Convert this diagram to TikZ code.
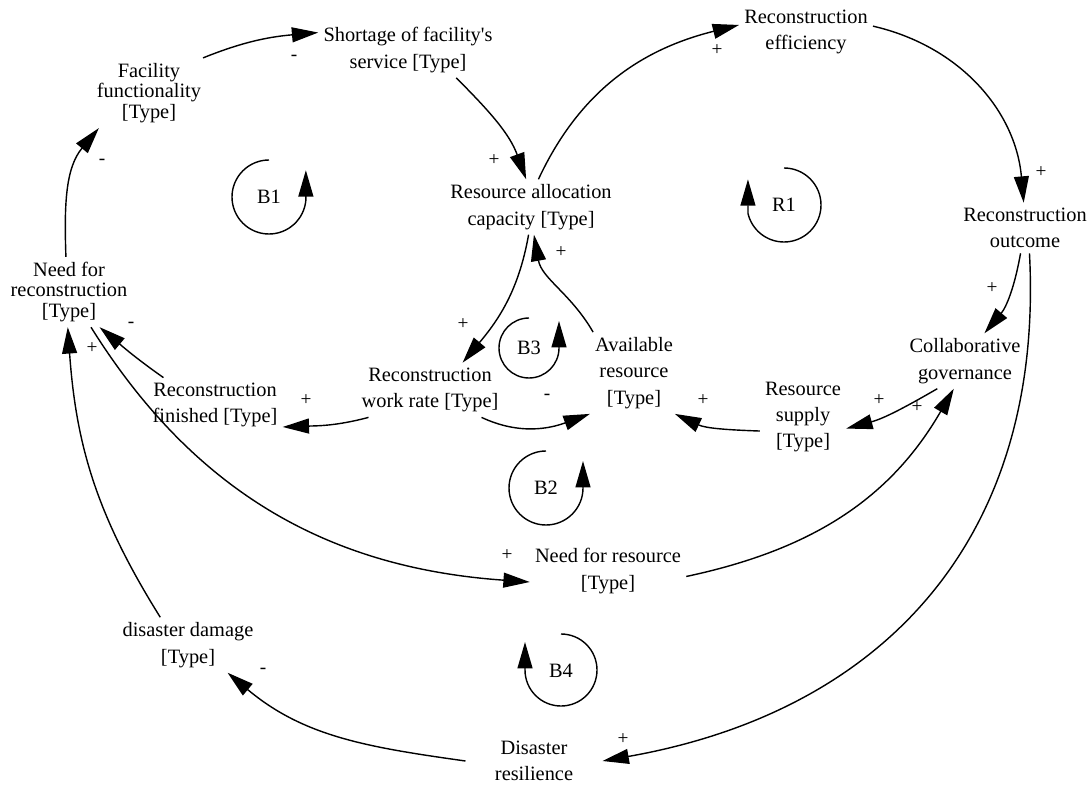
\documentclass[tikz,border=0pt]{standalone}
\usepackage{fontspec}
\setmainfont{Liberation Serif}
\usetikzlibrary{arrows.meta}

\begin{document}
\begin{tikzpicture}[x=0.02cm,y=0.02cm,
		var/.style={align=center,inner sep=1pt,outer sep=2pt,font=\fontsize{11.6}{15}\selectfont},
		tight/.style={font=\fontsize{11.6}{11.7}\selectfont},
		link/.style={line width=0.8pt,-{Triangle[length=15pt,width=8.5pt]}},
		sign/.style={inner sep=0pt,font=\fontsize{11}{11}\selectfont},
		loopname/.style={inner sep=0pt,font=\fontsize{11.6}{12}\selectfont}]
			\useasboundingbox (0,0) rectangle (1091,785);
			
			% variables
			\node[var,tight] (fac) at (149,692) {Facility\\functionality\\{[Type]}};
			\node[var] (short) at (408,735) {Shortage of facility\textquotesingle s\\service [Type]};
			\node[var] (eff) at (806,753) {Reconstruction\\efficiency};
			\node[var] (rac) at (531,578) {Resource allocation\\capacity [Type]};
			\node[var] (outcome) at (1025,557) {Reconstruction\\outcome};
			\node[var,tight] (needrec) at (69,493) {Need for\\reconstruction\\{[Type]}};
			\node[var] (collab) at (965,424) {Collaborative\\governance};
			\node[var] (avail) at (634,412) {Available\\resource\\{[Type]}};
			\node[var] (rate) at (430,395) {Reconstruction\\work rate [Type]};
			\node[var] (fin) at (215,380) {Reconstruction\\finished [Type]};
			\node[var] (supply) at (803,368) {Resource\\supply\\{[Type]}};
			\node[var] (needres) at (608,214) {Need for resource\\{[Type]}};
			\node[var] (damage) at (188,140) {disaster damage\\{[Type]}};
			\node[var,minimum width=2.6cm] (resil) at (534,24) {Disaster\\resilience};
			
			% links
			\draw[link] (fac.33) to[out=22,in=185] (short.169);
			\draw[link] (short.-30) to[out=-45,in=110] (rac.100);
			\draw[link] (rac.75) to[out=65,in=194] (eff.174);
			\draw[link] (eff.5) to[out=-13,in=95] (outcome.93);
			\draw[link] (outcome.-100) to[out=-100,in=50] (collab.55);
			\draw[link] (outcome.-80) to[out=-87,in=10,looseness=1.1] (resil.east);
			\draw[link] (collab.-135) to[out=210,in=15] (supply.-15);
			\draw[link] (supply.198) to[out=178,in=-25] (avail.-45);
			\draw[link] (avail.135) to[out=120,in=-80] (rac.-84);
			\draw[link] (rac.-95) to[out=-100,in=50] (rate.40);
			\draw[link] (rate.-28) to[out=-25,in=200] (avail.south west);
			\draw[link] (rate.204) to[out=195,in=2] (fin.-18);
			\draw[link] (fin.152) to[out=145,in=-40] (needrec.-49);
			\draw[link] (needrec.95) to[out=92,in=-130] (fac.-145);
			\draw[link] (needrec.-58) to[out=-58,in=176] (needres.188);
			\draw[link] (needres.-4) to[out=12,in=-120] (collab.-112);
			\draw[link] (damage.135) to[out=122,in=-86] (needrec.-92);
			\draw[link] (resil.west) to[out=172,in=-40] (damage.-35);
			
			% polarities
			\node[sign] (p1) at (294,727) {-};
			\node[sign] (p2) at (494,625) {+};
			\node[sign] (p3) at (717,735) {+};
			\node[sign] (p4) at (1041,613) {+};
			\node[sign] (p5) at (992,497) {+};
			\node[sign] (p6) at (561,533) {+};
			\node[sign] (p7) at (463,461) {+};
			\node[sign] (p8) at (547,388) {-};
			\node[sign] (p9) at (306,385) {+};
			\node[sign] (p10) at (131,460) {-};
			\node[sign] (p11) at (92,437) {+};
			\node[sign] (p12) at (102,623) {-};
			\node[sign] (p13) at (703,385) {+};
			\node[sign] (p14) at (879,385) {+};
			\node[sign] (p15) at (917,378) {+};
			\node[sign] (p16) at (507,230) {+};
			\node[sign] (p17) at (263,114) {-};
			\node[sign] (p18) at (623,46) {+};
			
			% loops
			\node[loopname] (b1) at (269,588) {B1};
			\draw[link] (b1.center) ++(0,37) arc[start angle=90,end angle=355,radius=37] -- ++(0,30);
			\node[loopname] (r1) at (784,580) {R1};
			\draw[link] (r1.center) ++(0,37) arc[start angle=90,end angle=-167,radius=37] -- ++(0,34);
			\node[loopname] (b3) at (529,437) {B3};
			\draw[link] (b3.center) ++(0,30) arc[start angle=90,end angle=360,radius=30] -- ++(0,27);
			\node[loopname] (b2) at (546,297) {B2};
			\draw[link] (b2.center) ++(0,37) arc[start angle=90,end angle=360,radius=37] -- ++(0,27);
			\node[loopname] (b4) at (561,114) {B4};
			\draw[link] (b4.center) ++(0,37) arc[start angle=90,end angle=-180,radius=36] -- ++(0,28);
			
		\end{tikzpicture}
\end{document}
